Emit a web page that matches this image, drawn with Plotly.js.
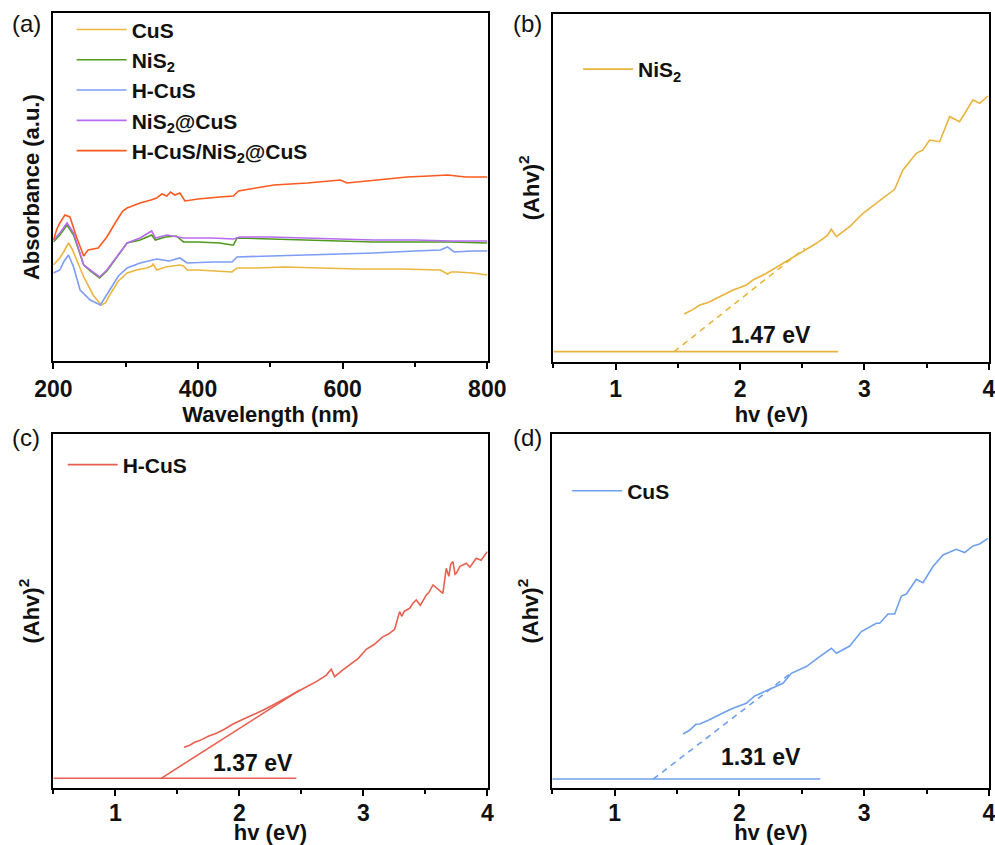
<!DOCTYPE html>
<html>
<head>
<meta charset="utf-8">
<script src="https://cdn.plot.ly/plotly-3.0.1.min.js"></script>
<style>html,body{margin:0;padding:0;background:#fff;}#chart{width:995px;height:845px;}</style>
</head>
<body>
<div id="chart"></div>
<script>
// ---------- Panel (a): UV-vis absorbance ----------
const wlCuS = [200,209,215,221,226,232,242,255,266,272,278,290,302,315,329,336,338,343,355,365,375,380,385,400,420,447,454,480,520,574,620,680,720,735,745,750,758,780,800];
const absCuS = [96,103,110,118,112,101,84,66,56,58,66,80,88,91,93,95,97,91,94,95,96,95,91,91,90,89,93,93,94,93,92,92,91,91,87,89,89,88,86];

const wlNiS2 = [200,209,219,228,242,251,264,274,288,302,320,336,341,355,370,380,400,430,447,449,454,500,551,600,643,700,750,800];
const absNiS2 = [119,126,136,126,96,90,83,90,104,118,121,126,121,124,125,119,119,118,116,116,123,122,121,120,119,119,119,118];

const wlHCuS = [200,209,215,221,228,237,251,265,278,290,302,320,343,360,375,385,420,447,454,500,551,600,643,700,735,745,754,780,800];
const absHCuS = [88,91,100,106,94,71,61,56,71,85,93,98,102,100,103,98,99,99,104,105,106,107,108,110,111,114,109,110,110];

const wlNiS2CuS = [200,209,219,228,242,251,264,274,288,302,320,336,341,357,380,420,449,458,500,551,600,643,700,750,800];
const absNiS2CuS = [121,128,138,128,96,91,84,91,104,118,123,130,123,126,123,123,122,124,124,123,122,121,121,120,120];

const wlComp = [200,205,209,216,223,232,242,248,262,274,288,296,302,320,335,343,350,357,362,368,375,382,400,412,430,449,456,480,505,551,597,606,643,689,720,745,770,800];
const absComp = [121,132,138,146,144,124,105,111,113,124,141,150,153,158,161,163,167,165,169,166,168,160,162,163,164,165,170,173,176,178,181,178,181,184,185,186,184,184];

// ---------- Panel (b): NiS2 Tauc plot ----------
const evNiS2 = [1.551,1.62,1.677,1.75,1.811,1.88,1.945,2.052,2.105,2.212,2.346,2.48,2.614,2.70,2.734,2.774,2.881,2.988,3.095,3.176,3.242,3.309,3.416,3.47,3.523,3.604,3.684,3.764,3.871,3.925,3.992];
const taucNiS2 = [47.7,52,56.7,59.5,63.4,67.5,71.7,76.7,81.7,88.4,98.4,107.7,118.4,126,132.4,125,135,148.4,158.4,166.7,172.4,191.7,208.4,211.7,221.7,220,245,240,261.7,258.4,265.7];
const baseNiS2X = [0.5, 2.788], baseNiS2Y = [10, 10];
const fitNiS2X = [1.47, 2.52], fitNiS2Y = [10, 113.4];

// ---------- Panel (c): H-CuS Tauc plot ----------
const evHCuS = [1.554,1.60,1.64,1.680,1.75,1.815,1.88,1.949,2.03,2.110,2.19,2.272,2.34,2.406,2.487,2.55,2.621,2.70,2.742,2.769,2.83,2.890,2.96,3.024,3.09,3.159,3.2,3.253,3.293,3.31,3.33,3.374,3.40,3.427,3.46,3.508,3.53,3.562,3.60,3.642,3.669,3.69,3.705,3.723,3.74,3.750,3.78,3.831,3.86,3.911,3.95,4.0];
const taucHCuS = [41,43,46,47.7,52,55,59,64.3,69,73.3,78,83.3,88,92.3,98.3,102,106.7,113,119,111.7,118,123.3,130,139,144,151.7,154,159,176.7,172,177,180,185,188.3,183,193.3,196,203.3,199,195,220,212,224,226.7,214,215,222,225,221,230,228,236.7];
const baseHCuSX = [0.5, 2.46], baseHCuSY = [10, 10];
const fitHCuSX = [1.37, 2.487], fitHCuSY = [10, 98.3];

// ---------- Panel (d): CuS Tauc plot ----------
const evCuS = [1.548,1.60,1.65,1.681,1.75,1.815,1.88,1.948,2.055,2.122,2.216,2.349,2.416,2.536,2.643,2.737,2.777,2.884,2.977,3.097,3.124,3.191,3.244,3.298,3.338,3.418,3.471,3.551,3.632,3.738,3.805,3.872,3.925,3.992];
const taucCuS = [54.3,58,64,64.3,68,72.3,76,80,85,92.3,97.7,105,115,121.7,131.7,140,135,142.3,156.7,165,165,174.3,174.3,192.3,194.3,209,205.7,221.7,233.3,239,235.7,242.3,244.3,250];
const baseCuSX = [0.5, 2.648], baseCuSY = [9.3, 9.3];
const fitCuSX = [1.31, 2.429], fitCuSY = [9.3, 116.7];

const evTicks = [1, 2, 3, 4];
const wlTicks = [200, 400, 600, 800];

const FONT = 'Arial, "Liberation Sans", sans-serif';
const cA = {CuS:'#EBB63F', NiS2:'#4F9A1E', HCuS:'#7D9CF8', NiS2CuS:'#B66CF0', Comp:'#FF5A1E'};
const cB = '#E8B43C', cC = '#E8604F', cD = '#6FA0EE';

function line(x, y, color, xa, ya, opts) {
  return Object.assign({x: x, y: y, type: 'scatter', mode: 'lines', xaxis: xa, yaxis: ya,
    line: {color: color, width: 1.6}, hoverinfo: 'skip', showlegend: false}, opts || {});
}

const traces = [
  line(wlCuS, absCuS, cA.CuS, 'x', 'y', {name: 'CuS', showlegend: true, legend: 'legend'}),
  line(wlNiS2, absNiS2, cA.NiS2, 'x', 'y', {name: 'NiS<sub>2</sub>', showlegend: true, legend: 'legend'}),
  line(wlHCuS, absHCuS, cA.HCuS, 'x', 'y', {name: 'H-CuS', showlegend: true, legend: 'legend'}),
  line(wlNiS2CuS, absNiS2CuS, cA.NiS2CuS, 'x', 'y', {name: 'NiS<sub>2</sub>@CuS', showlegend: true, legend: 'legend'}),
  line(wlComp, absComp, cA.Comp, 'x', 'y', {name: 'H-CuS/NiS<sub>2</sub>@CuS', showlegend: true, legend: 'legend'}),

  line(evNiS2, taucNiS2, cB, 'x2', 'y2', {name: 'NiS<sub>2</sub>', showlegend: true, legend: 'legend2'}),
  line(baseNiS2X, baseNiS2Y, cB, 'x2', 'y2'),
  line(fitNiS2X, fitNiS2Y, cB, 'x2', 'y2', {line: {color: cB, width: 1.6, dash: '6px,5px'}}),

  line(evHCuS, taucHCuS, cC, 'x3', 'y3', {name: 'H-CuS', showlegend: true, legend: 'legend3'}),
  line(baseHCuSX, baseHCuSY, cC, 'x3', 'y3'),
  line(fitHCuSX, fitHCuSY, cC, 'x3', 'y3'),

  line(evCuS, taucCuS, cD, 'x4', 'y4', {name: 'CuS', showlegend: true, legend: 'legend4'}),
  line(baseCuSX, baseCuSY, cD, 'x4', 'y4'),
  line(fitCuSX, fitCuSY, cD, 'x4', 'y4', {line: {color: cD, width: 1.6, dash: '6px,5px'}})
];

const tickFont = {family: FONT, size: 23, color: '#111', weight: 'bold'};
const titleFont = {family: FONT, size: 22, color: '#111', weight: 'bold'};

function xax(domain, anchor, range, ticks, minor, title, labelOffset) {
  return {domain: domain, anchor: anchor, range: range, tickmode: 'array', tickvals: ticks,
    ticklabeloverflow: 'allow', ticklabelstandoff: labelOffset,
    showline: true, linewidth: 2, linecolor: '#000', mirror: true,
    ticks: 'outside', ticklen: 6, tickwidth: 2, tickcolor: '#000',
    minor: {dtick: minor, tick0: 0, ticks: 'outside', ticklen: 4, tickwidth: 2, tickcolor: '#000'},
    showgrid: false, zeroline: false, tickfont: tickFont,
    title: {text: title, font: titleFont, standoff: 0}, automargin: false};
}
function yax(domain, anchor, range, title) {
  return {domain: domain, anchor: anchor, range: range,
    showline: true, linewidth: 2, linecolor: '#000', mirror: true,
    ticks: '', showticklabels: false, showgrid: false, zeroline: false,
    title: {text: title, font: titleFont, standoff: 6}, automargin: false};
}
const legFont = {family: FONT, size: 21, color: '#111', weight: 'bold'};
const legBase = {xanchor: 'left', yanchor: 'top', font: legFont, bgcolor: 'rgba(0,0,0,0)', tracegroupgap: 0, itemwidth: 50};

function panelLabel(t, px, py) {
  return {text: t, x: px/995, y: 1 - py/845, xref: 'paper', yref: 'paper', xanchor: 'center', yanchor: 'middle',
    showarrow: false, font: {family: FONT, size: 24, color: '#111'}};
}
function gapLabel(t, x, y, xr, yr) {
  return {text: t, x: x, y: y, xref: xr, yref: yr, xanchor: 'center', yanchor: 'middle', showarrow: false,
    font: {family: FONT, size: 23, color: '#111', weight: 'bold'}};
}

const layout = {
  width: 995, height: 845,
  margin: {l: 0, r: 0, t: 0, b: 0},
  paper_bgcolor: '#fff', plot_bgcolor: '#fff',
  font: {family: FONT},
  xaxis: xax([0.0536, 0.4901], 'y', [200, 800.5], wlTicks, 100, 'Wavelength (nm)', 0),
  yaxis: yax([0.5728, 0.9843], 'x', [0, 347.7], 'Absorbance (a.u.)'),
  xaxis2: xax([0.5561, 0.9943], 'y2', [0.5, 4.003], evTicks, 0.5, 'hv (eV)', 0),
  yaxis2: yax([0.572, 0.9834], 'x2', [0, 347.7], '(Ahv)<sup>2</sup>'),
  xaxis3: xax([0.0536, 0.4901], 'y3', [0.5, 4.003], evTicks, 0.5, 'hv (eV)', -3),
  yaxis3: yax([0.0671, 0.4864], 'x3', [0, 354.3], '(Ahv)<sup>2</sup>'),
  xaxis4: xax([0.5551, 0.9943], 'y4', [0.5, 4.003], evTicks, 0.5, 'hv (eV)', -3),
  yaxis4: yax([0.0671, 0.4864], 'x4', [0, 354.3], '(Ahv)<sup>2</sup>'),
  legend: Object.assign({x: 0.072, y: 0.989}, legBase),
  legend2: Object.assign({x: 0.581, y: 0.942}, legBase),
  legend3: Object.assign({x: 0.063, y: 0.474}, legBase),
  legend4: Object.assign({x: 0.570, y: 0.443}, legBase),
  annotations: [
    panelLabel('(a)', 26, 24),
    panelLabel('(b)', 527, 24),
    panelLabel('(c)', 26, 437),
    panelLabel('(d)', 527, 437),
    gapLabel('1.47 eV', 2.252, 26.7, 'x2', 'y2'),
    gapLabel('1.37 eV', 2.11, 25.7, 'x3', 'y3'),
    gapLabel('1.31 eV', 2.176, 31, 'x4', 'y4')
  ]
};

Plotly.newPlot('chart', traces, layout, {displayModeBar: false, staticPlot: true});
</script>
</body>
</html>
